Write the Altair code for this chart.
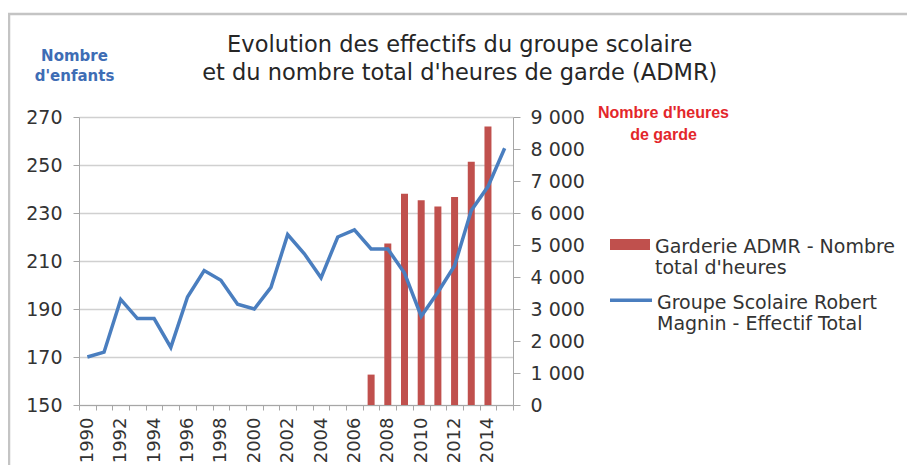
import altair as alt
import pandas as pd

# ---- data ----
years = [str(y) for y in range(1990, 2016)]
effectif = [170, 172, 194, 186, 186, 174, 195, 206, 202, 192, 190, 199, 221,
            213, 203, 220, 223, 215, 215, 205, 187, 197, 208, 231, 241, 257]
heures_years = ["2007", "2008", "2009", "2010", "2011", "2012", "2013", "2014"]
heures = [950, 5050, 6600, 6400, 6200, 6500, 7600, 8700]

bar_label = "Garderie ADMR - Nombre|total d'heures"
line_label = "Groupe Scolaire Robert|Magnin - Effectif Total"

left_ticks = [150, 170, 190, 210, 230, 250, 270]
right_ticks = [0, 1000, 2000, 3000, 4000, 5000, 6000, 7000, 8000, 9000]

title_lines = ["Evolution des effectifs du groupe scolaire",
               "et du nombre total d'heures de garde (ADMR)"]
left_title = ["Nombre", "d'enfants"]
right_title = ["Nombre d'heures", "de garde"]

BLUE = "#4A7EBF"
RED = "#C0504D"
TXT = "#333333"
FONT = "DejaVu Sans"

df_line = pd.DataFrame({"annee": years, "effectif": effectif, "serie_line": line_label})
df_bar = pd.DataFrame({"annee": heures_years, "heures": heures, "serie_bar": bar_label})

x_enc = alt.X(
    "annee:O",
    scale=alt.Scale(domain=years, paddingInner=0, paddingOuter=0),
    axis=alt.Axis(
        title=None, labelAngle=-90, labelFont=FONT, labelFontSize=18, labelColor=TXT,
        labelExpr="parseInt(datum.value) % 2 === 0 ? datum.label : ''",
        tickBand="extent", tickSize=5, labelPadding=7,
        domainColor="#A6A6A6", tickColor="#A6A6A6", labelOverlap=False,
    ),
)

bars = alt.Chart(df_bar).mark_bar(size=7).encode(
    x=x_enc,
    y=alt.Y(
        "heures:Q",
        scale=alt.Scale(domain=[0, 9000], nice=False),
        axis=alt.Axis(
            orient="right", values=right_ticks, grid=False,
            labelExpr="replace(format(datum.value, ','), ',', ' ')",
            labelFont=FONT, labelFontSize=19, labelColor=TXT,
            tickSize=7, labelPadding=10, domainColor="#A6A6A6", tickColor="#A6A6A6",
            title=right_title, titleAngle=0, titleAlign="center", titleBaseline="alphabetic",
            titleX=150, titleY=0, titleLineHeight=22, titleFont="Liberation Sans",
            titleFontSize=16, titleFontWeight="bold", titleColor="#E3262B",
        ),
    ),
    color=alt.Color(
        "serie_bar:N",
        scale=alt.Scale(domain=[bar_label], range=[RED]),
        legend=alt.Legend(
            orient="none", legendX=531, legendY=101, title=None, padding=0,
            symbolType="M-1,0.05H1V0.6H-1Z", symbolSize=1600, symbolStrokeWidth=0,
            labelFont=FONT, labelFontSize=19, labelColor=TXT, labelLimit=0, labelOffset=5,
            labelExpr="split(datum.label, '|')", labelBaseline="top",
        ),
    ),
)

line = alt.Chart(df_line).mark_line(strokeWidth=3.5).encode(
    x=x_enc,
    y=alt.Y(
        "effectif:Q",
        scale=alt.Scale(domain=[150, 270], nice=False, zero=False),
        axis=alt.Axis(
            orient="left", values=left_ticks, grid=True,
            gridColor="#D0D0D0", gridWidth=1.5,
            labelFont=FONT, labelFontSize=19, labelColor=TXT,
            tickSize=6, labelPadding=11, domainColor="#A6A6A6", tickColor="#A6A6A6",
            title=left_title, titleAngle=0, titleAlign="center", titleBaseline="alphabetic",
            titleX=-5, titleY=-57, titleLineHeight=20, titleFont=FONT,
            titleFontSize=15, titleFontWeight="bold", titleColor="#3E6DB5",
        ),
    ),
    stroke=alt.Stroke(
        "serie_line:N",
        scale=alt.Scale(domain=[line_label], range=[BLUE]),
        legend=alt.Legend(
            orient="none", legendX=529, legendY=154, title=None, padding=0,
            symbolType="M-1,0.3L1,0.3", symbolSize=1764, symbolStrokeWidth=3.5,
            labelFont=FONT, labelFontSize=19, labelColor=TXT, labelLimit=0, labelOffset=3,
            labelExpr="split(datum.label, '|')", labelBaseline="top",
        ),
    ),
)

frame = alt.Chart(pd.DataFrame({"k": [0]})).mark_rect(
    fillOpacity=0, stroke="#C4C4C4", strokeWidth=2.5
).encode(
    x=alt.value(-70), x2=alt.value(1200), y=alt.value(-103), y2=alt.value(800)
)

chart = alt.layer(frame, bars, line).resolve_scale(
    y="independent", color="independent", stroke="independent"
).properties(
    width=434,
    height=288,
    autosize=alt.AutoSizeParams(type="none"),
    padding={"left": 71, "top": 109, "right": 394, "bottom": 60},
    title=alt.TitleParams(
        text=title_lines, font=FONT, fontSize=22.5, fontWeight="normal", color="#262626",
        anchor="start", align="center", dx=452, dy=76, lineHeight=28,
    ),
).configure_view(stroke=None)

chart.save("out.html", embed_options={"renderer": "svg", "actions": False})
